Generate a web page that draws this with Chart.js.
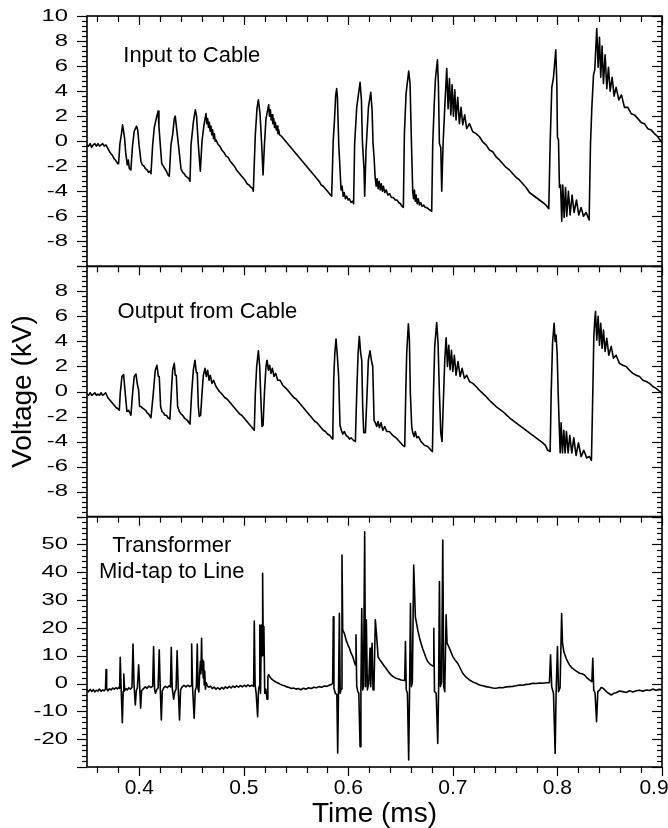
<!DOCTYPE html>
<html>
<head>
<meta charset="utf-8">
<script src="https://cdn.jsdelivr.net/npm/chart.js@4.4.0/dist/chart.umd.min.js"></script>
<style>
  html, body { margin: 0; padding: 0; background: #fff; }
  #wrap { width: 668px; height: 828px; position: relative; }
</style>
</head>
<body>
<div id="wrap"><canvas id="chart" width="668" height="828"></canvas></div>
<script>
const FONT = "'Liberation Sans', Arial, Helvetica, sans-serif";

// tick labels
const timeLabels = [0.4, 0.5, 0.6, 0.7, 0.8, 0.9];
const kvLabelsTop = [10, 8, 6, 4, 2, 0, -2, -4, -6, -8];
const kvLabelsMid = [8, 6, 4, 2, 0, -2, -4, -6, -8];
const mtLabels = [50, 40, 30, 20, 10, 0, -10, -20];

// [time (ms), voltage (kV)]
const inputToCable = [
  [0.3500,-0.3],[0.3515,-0.4],[0.3530,-0.2],[0.3545,-0.5],[0.3560,-0.3],[0.3575,-0.2],[0.3590,-0.4],[0.3605,-0.2],[0.3620,-0.4],[0.3635,-0.3],[0.3650,-0.2],[0.3665,-0.4],[0.3681,-0.3],
  [0.3700,-0.6],[0.3720,-0.9],[0.3740,-1.1],[0.3760,-1.4],[0.3780,-1.6],[0.3793,-1.8],
  [0.3802,-1.8],[0.3815,-0.2],[0.3830,0.6],[0.3840,1.3],[0.3850,0.8],[0.3860,0.2],[0.3870,-0.9],[0.3885,-1.9],[0.3895,-1.5],[0.3905,-2.2],[0.3920,-2.3],
  [0.3935,-0.4],[0.3952,0.8],[0.3974,1.2],[0.3985,0.9],[0.3998,-0.3],[0.4016,-1.6],[0.4030,-1.9],[0.4045,-2.0],[0.4060,-2.2],[0.4075,-2.3],[0.4090,-2.5],[0.4105,-2.4],[0.4112,-2.6],
  [0.4128,-0.3],[0.4144,1.1],[0.4165,1.9],[0.4180,2.4],[0.4188,1.2],[0.4201,-0.3],[0.4215,-1.8],[0.4230,-2.0],[0.4245,-2.2],[0.4260,-2.4],[0.4275,-2.7],[0.4287,-2.8],
  [0.4303,-0.3],[0.4319,0.5],[0.4335,1.8],[0.4344,2.0],[0.4352,1.4],[0.4376,-0.4],[0.4399,-2.2],[0.4415,-2.5],[0.4430,-2.6],[0.4445,-2.8],[0.4460,-2.9],[0.4475,-3.0],[0.4485,-3.2],
  [0.4495,-0.3],[0.4517,1.5],[0.4536,2.5],[0.4548,2.0],[0.4565,-0.3],[0.4584,-2.4],[0.4600,0.0],[0.4619,1.3],[0.4638,2.2],[0.4646,1.4],[0.4654,1.8],[0.4662,1.1],[0.4670,1.5],[0.4678,0.8],[0.4686,1.2],[0.4694,0.5],[0.4702,0.9],[0.4710,0.2],[0.4718,0.6],[0.4726,0.0],[0.4734,0.1],
  [0.4750,-0.2],[0.4770,-0.4],[0.4790,-0.7],[0.4810,-0.9],[0.4830,-1.2],[0.4850,-1.3],[0.4870,-1.6],[0.4890,-1.8],[0.4910,-2.0],[0.4930,-2.3],[0.4950,-2.5],[0.4970,-2.7],[0.4990,-2.9],[0.5010,-3.1],[0.5030,-3.4],[0.5050,-3.5],[0.5070,-3.7],[0.5085,-3.8],[0.5091,-4.0],
  [0.5100,-1.8],[0.5110,0.5],[0.5126,2.6],[0.5139,3.3],[0.5155,2.2],[0.5171,-0.3],[0.5184,-2.7],[0.5197,-0.3],[0.5212,1.8],[0.5238,2.9],[0.5246,2.0],[0.5254,2.5],[0.5262,1.7],[0.5270,2.1],[0.5278,1.4],[0.5286,1.8],[0.5294,1.1],[0.5302,1.5],[0.5310,0.9],[0.5318,1.2],[0.5326,0.6],[0.5334,0.9],[0.5342,0.5],
  [0.5360,0.4],[0.5380,0.2],[0.5400,0.0],[0.5420,-0.2],[0.5440,-0.4],[0.5460,-0.6],[0.5480,-0.8],[0.5500,-1.0],[0.5520,-1.2],[0.5540,-1.4],[0.5560,-1.6],[0.5580,-1.8],[0.5600,-2.0],[0.5620,-2.2],[0.5640,-2.4],[0.5660,-2.6],[0.5680,-2.8],[0.5700,-3.0],[0.5720,-3.2],[0.5740,-3.5],[0.5760,-3.6],[0.5780,-3.8],[0.5800,-4.0],[0.5820,-4.2],[0.5840,-4.4],
  [0.5845,-3.0],[0.5855,0.0],[0.5868,1.8],[0.5878,3.6],[0.5888,4.2],[0.5895,3.5],[0.5908,-0.2],[0.5930,-3.9],[0.5940,-3.6],[0.5950,-4.4],[0.5960,-4.1],[0.5972,-4.6],[0.5985,-4.4],[0.5998,-4.7],[0.6010,-4.6],[0.6025,-4.9],[0.6040,-4.8],[0.6050,-5.0],
  [0.6060,-0.2],[0.6080,2.7],[0.6099,3.9],[0.6112,4.7],[0.6125,3.3],[0.6134,0.0],[0.6150,-2.3],[0.6156,-4.4],[0.6169,-0.7],[0.6192,2.7],[0.6214,3.9],[0.6227,2.5],[0.6236,-0.2],[0.6246,-1.3],[0.6256,-2.9],[0.6266,-3.6],[0.6275,-3.0],[0.6285,-3.8],[0.6295,-3.2],[0.6305,-3.9],[0.6315,-3.4],[0.6325,-4.0],[0.6335,-3.6],[0.6348,-4.1],[0.6362,-3.9],[0.6378,-4.3],[0.6395,-4.2],[0.6412,-4.5],[0.6430,-4.5],[0.6448,-4.7],[0.6465,-4.7],[0.6482,-4.9],[0.6498,-5.0],[0.6512,-5.2],[0.6526,-5.3],
  [0.6536,0.6],[0.6552,3.8],[0.6577,5.6],[0.6590,4.6],[0.6603,0.0],[0.6616,-4.1],[0.6624,-4.6],[0.6632,-3.9],[0.6640,-4.8],[0.6648,-4.3],[0.6658,-5.0],[0.6668,-4.6],[0.6680,-5.1],[0.6692,-4.9],[0.6705,-5.2],[0.6720,-5.1],[0.6735,-5.3],[0.6750,-5.3],[0.6765,-5.4],[0.6780,-5.5],[0.6797,-5.6],
  [0.6807,-0.2],[0.6823,3.3],[0.6833,5.0],[0.6852,6.5],[0.6861,4.6],[0.6871,-0.2],[0.6884,-0.5],[0.6893,-4.0],[0.6906,-0.2],[0.6922,2.7],[0.6941,5.8],[0.6954,2.6],[0.6967,5.0],[0.6980,2.1],[0.6992,4.5],[0.7005,2.0],[0.7018,4.1],[0.7030,1.7],[0.7046,3.5],[0.7062,1.4],[0.7078,2.7],[0.7094,1.3],[0.7113,2.1],[0.7132,1.0],[0.7158,1.4],[0.7190,0.75],[0.7222,0.6],[0.7254,0.35],[0.7285,-0.05],
  [0.7317,-0.3],[0.7349,-0.7],[0.7381,-0.85],[0.7413,-1.25],[0.7445,-1.5],[0.7477,-1.8],[0.7509,-2.1],[0.7541,-2.3],[0.7573,-2.6],[0.7605,-2.9],[0.7636,-3.1],[0.7668,-3.4],[0.7700,-3.7],[0.7732,-4.1],[0.7764,-4.3],[0.7796,-4.5],[0.7828,-4.7],[0.7860,-4.9],[0.7890,-5.1],[0.7917,-5.4],
  [0.7930,-0.2],[0.7946,4.3],[0.7962,5.1],[0.7984,7.3],[0.7994,4.6],[0.8000,0.3],[0.8010,0.1],[0.8019,-3.7],[0.8030,-3.5],[0.8041,-6.4],[0.8051,-3.5],[0.8064,-6.1],[0.8077,-3.7],[0.8089,-6.0],[0.8105,-4.0],[0.8121,-5.9],[0.8140,-4.3],[0.8159,-5.7],[0.8182,-4.7],[0.8204,-5.9],[0.8226,-5.3],[0.8249,-6.0],[0.8274,-5.7],[0.8303,-6.3],
  [0.8316,-0.2],[0.8329,2.7],[0.8345,5.3],[0.8357,5.7],[0.8376,9.0],[0.8389,5.9],[0.8402,8.3],[0.8414,5.1],[0.8427,7.6],[0.8440,4.6],[0.8456,6.9],[0.8472,4.2],[0.8488,5.9],[0.8504,4.0],[0.8523,5.1],[0.8542,3.6],[0.8561,4.3],[0.8587,3.3],[0.8612,3.7],[0.8641,2.7],[0.8673,2.7],[0.8705,2.2],[0.8737,2.1],[0.8769,1.8],[0.8800,1.5],[0.8832,1.4],[0.8864,1.0],[0.8896,0.9],[0.8928,0.6],[0.8960,0.35],[0.8992,-0.05],[0.9000,-0.1]
];

const outputFromCable = [
  [0.3500,-0.2],[0.3515,-0.3],[0.3530,-0.1],[0.3545,-0.3],[0.3560,-0.2],[0.3575,-0.1],[0.3590,-0.3],[0.3605,-0.2],[0.3620,-0.3],[0.3635,-0.1],[0.3650,-0.3],[0.3665,-0.2],[0.3678,-0.1],
  [0.3700,-0.5],[0.3720,-0.7],[0.3740,-0.9],[0.3760,-1.1],[0.3780,-1.3],[0.3800,-1.4],[0.3809,-1.5],
  [0.3818,-0.15],[0.3834,1.2],[0.3850,1.35],[0.3866,-0.15],[0.3882,-1.6],[0.3898,-1.5],[0.3920,-1.9],
  [0.3936,-0.15],[0.3952,1.2],[0.3968,1.4],[0.3981,0.6],[0.3994,0.1],[0.4003,-1.2],[0.4016,-1.2],[0.4030,-1.3],[0.4045,-1.4],[0.4060,-1.5],[0.4075,-1.7],[0.4090,-1.8],[0.4105,-2.0],[0.4112,-2.1],
  [0.4134,-0.15],[0.4153,1.7],[0.4169,2.1],[0.4182,1.2],[0.4191,1.2],[0.4204,-1.2],[0.4217,-1.6],[0.4230,-1.7],[0.4245,-1.9],[0.4260,-1.9],[0.4275,-2.1],[0.4293,-2.2],
  [0.4306,-0.15],[0.4319,1.7],[0.4335,2.25],[0.4344,1.3],[0.4354,1.3],[0.4367,-1.2],[0.4383,-1.6],[0.4400,-1.8],[0.4415,-1.9],[0.4430,-2.1],[0.4445,-2.2],[0.4460,-2.3],[0.4475,-2.5],[0.4485,-2.6],
  [0.4501,-0.15],[0.4517,1.7],[0.4533,2.5],[0.4546,1.5],[0.4555,1.5],[0.4565,-1.2],[0.4574,-2.0],[0.4587,-1.9],[0.4600,-0.15],[0.4613,1.3],[0.4629,1.85],[0.4641,1.2],[0.4654,1.7],[0.4667,0.9],[0.4679,1.3],[0.4695,0.65],[0.4711,0.9],[0.4734,0.4],[0.4766,0.0],
  [0.4780,-0.1],[0.4800,-0.3],[0.4820,-0.5],[0.4840,-0.6],[0.4860,-0.8],[0.4880,-1.0],[0.4900,-1.2],[0.4920,-1.4],[0.4940,-1.6],[0.4960,-1.8],[0.4980,-1.9],[0.5000,-2.1],[0.5020,-2.3],[0.5040,-2.5],[0.5060,-2.7],[0.5080,-2.9],[0.5100,-3.1],
  [0.5110,-0.15],[0.5123,2.0],[0.5139,3.25],[0.5152,2.0],[0.5161,-0.15],[0.5174,-2.8],[0.5184,-2.7],[0.5197,-0.15],[0.5212,2.0],[0.5222,2.5],[0.5235,1.7],[0.5247,2.1],[0.5260,1.45],[0.5273,1.85],[0.5289,1.2],[0.5305,1.45],[0.5324,0.9],[0.5346,0.9],[0.5372,0.5],[0.5404,0.25],
  [0.5420,0.1],[0.5440,-0.1],[0.5460,-0.3],[0.5480,-0.5],[0.5500,-0.6],[0.5520,-0.8],[0.5540,-1.0],[0.5560,-1.2],[0.5580,-1.4],[0.5600,-1.6],[0.5620,-1.8],[0.5640,-2.0],[0.5660,-2.2],[0.5680,-2.4],[0.5700,-2.5],[0.5720,-2.7],[0.5740,-2.9],[0.5760,-3.1],[0.5780,-3.2],[0.5800,-3.4],[0.5820,-3.5],[0.5840,-3.7],[0.5848,-3.8],
  [0.5852,-3.0],[0.5860,1.0],[0.5870,3.0],[0.5882,4.2],[0.5895,2.8],[0.5907,1.2],[0.5920,-2.7],[0.5933,-3.1],[0.5946,-3.4],[0.5962,-3.2],[0.5978,-3.5],[0.5994,-3.6],[0.6010,-3.8],[0.6025,-3.7],[0.6048,-3.9],[0.6067,-4.0],
  [0.6080,-0.15],[0.6093,3.05],[0.6105,4.4],[0.6118,3.05],[0.6128,2.5],[0.6137,-1.2],[0.6147,-3.3],[0.6163,-3.3],[0.6179,-0.15],[0.6191,2.5],[0.6207,3.25],[0.6220,2.5],[0.6233,2.0],[0.6246,-2.3],[0.6258,-2.5],[0.6271,-2.8],[0.6284,-2.4],[0.6297,-2.9],[0.6313,-2.5],[0.6329,-3.1],[0.6348,-2.8],[0.6367,-3.2],[0.6392,-3.2],[0.6424,-3.5],[0.6456,-3.7],[0.6488,-4.0],[0.6520,-4.3],[0.6539,-4.4],
  [0.6549,-0.15],[0.6558,3.05],[0.6574,5.4],[0.6584,4.1],[0.6593,-0.15],[0.6606,-2.8],[0.6616,-3.3],[0.6629,-3.6],[0.6641,-3.2],[0.6654,-3.7],[0.6670,-3.6],[0.6695,-4.0],[0.6727,-4.3],[0.6759,-4.4],[0.6791,-4.7],[0.6804,-4.8],
  [0.6814,-0.15],[0.6826,3.6],[0.6845,5.5],[0.6858,3.85],[0.6871,-0.15],[0.6884,-3.3],[0.6896,-4.0],[0.6909,-0.7],[0.6922,2.5],[0.6935,4.3],[0.6948,2.0],[0.6960,3.7],[0.6973,1.75],[0.6986,3.3],[0.6999,1.6],[0.7014,2.9],[0.7030,1.3],[0.7049,2.4],[0.7069,1.2],[0.7088,1.85],[0.7110,1.05],[0.7132,1.3],[0.7158,0.8],[0.7190,0.65],[0.7222,0.4],[0.7254,0.1],[0.7285,-0.15],
  [0.7317,-0.4],[0.7349,-0.7],[0.7381,-0.95],[0.7413,-1.2],[0.7445,-1.4],[0.7477,-1.6],[0.7509,-1.85],[0.7541,-2.1],[0.7573,-2.3],[0.7605,-2.5],[0.7636,-2.7],[0.7668,-2.9],[0.7700,-3.1],[0.7732,-3.3],[0.7764,-3.5],[0.7796,-3.7],[0.7828,-3.9],[0.7860,-4.1],[0.7885,-4.3],[0.7907,-4.7],[0.7930,-4.8],
  [0.7940,-0.15],[0.7953,3.85],[0.7968,5.45],[0.7978,4.0],[0.7987,4.5],[0.7997,3.05],[0.8007,-0.15],[0.8016,-2.5],[0.8026,-4.9],[0.8035,-2.5],[0.8048,-4.9],[0.8061,-3.1],[0.8073,-4.9],[0.8086,-3.2],[0.8102,-4.9],[0.8118,-3.5],[0.8137,-4.9],[0.8156,-3.7],[0.8178,-5.1],[0.8201,-4.1],[0.8226,-5.2],[0.8252,-4.7],[0.8280,-5.3],[0.8306,-5.2],[0.8325,-5.5],
  [0.8338,-0.15],[0.8348,4.4],[0.8357,5.7],[0.8364,6.4],[0.8376,4.1],[0.8389,6.0],[0.8402,3.7],[0.8414,5.45],[0.8427,3.45],[0.8440,4.9],[0.8456,3.2],[0.8472,4.25],[0.8491,2.9],[0.8514,3.6],[0.8536,2.65],[0.8561,2.9],[0.8593,2.25],[0.8625,2.1],[0.8657,2.0],[0.8689,1.7],[0.8721,1.45],[0.8753,1.3],[0.8785,1.2],[0.8817,0.9],[0.8849,0.8],[0.8881,0.65],[0.8912,0.4],[0.8944,0.25],[0.8986,-0.05],[0.9000,-0.15]
];

const midTapToLine = [
  [0.3500,-2.3],[0.3515,-2.9],[0.3530,-2.1],[0.3545,-2.8],[0.3560,-2.2],[0.3575,-3.0],[0.3590,-2.4],[0.3605,-2.7],[0.3620,-2.0],[0.3635,-2.8],[0.3650,-2.3],[0.3665,-2.6],[0.3677,-2.0],
  [0.3682,5.0],[0.3688,-1.8],[0.3700,-2.6],[0.3715,-1.9],[0.3730,-2.3],[0.3745,-1.6],[0.3760,-2.0],[0.3775,-1.5],[0.3790,-1.9],[0.3803,-1.4],[0.3812,-1.7],
  [0.3818,9.4],[0.3826,-1.0],[0.3838,-14.1],[0.3846,-2.9],[0.3852,3.4],[0.3860,-2.6],[0.3872,-1.8],[0.3885,-2.3],[0.3900,-1.5],[0.3915,-2.0],[0.3930,-1.4],
  [0.3940,14.2],[0.3950,-0.5],[0.3962,-7.7],[0.3972,-2.5],[0.3982,-1.5],[0.3994,6.7],[0.4004,-1.0],[0.4013,-8.9],[0.4022,-2.7],[0.4040,-1.8],[0.4058,-1.2],[0.4075,-1.7],[0.4092,-0.9],[0.4110,-1.4],[0.4128,-1.0],
  [0.4137,13.3],[0.4146,-2.0],[0.4155,-3.5],[0.4166,-2.2],[0.4180,-1.6],[0.4191,12.1],[0.4200,-1.0],[0.4211,-13.1],[0.4220,-2.6],[0.4235,-1.5],[0.4250,-1.0],[0.4268,-1.5],[0.4285,-0.8],[0.4298,-1.2],
  [0.4306,13.0],[0.4315,-1.5],[0.4329,-5.6],[0.4340,-3.0],[0.4352,-2.0],[0.4362,11.8],[0.4372,-1.0],[0.4385,-13.1],[0.4395,-2.3],[0.4410,-1.2],[0.4428,-0.6],[0.4446,-1.2],[0.4464,-0.6],[0.4482,-1.1],[0.4495,-0.8],
  [0.4501,14.2],[0.4510,-1.5],[0.4525,-12.5],[0.4535,-2.6],[0.4546,-1.2],[0.4555,14.2],[0.4562,-1.8],[0.4570,-3.0],[0.4578,4.0],[0.4585,8.0],[0.4590,3.5],[0.4596,16.3],[0.4601,5.0],[0.4606,8.5],[0.4611,2.0],[0.4616,8.0],[0.4621,-0.5],[0.4626,4.5],[0.4633,-2.0],[0.4641,0.3],
  [0.4652,-0.9],[0.4665,-1.3],[0.4680,-0.9],[0.4698,-1.8],[0.4716,-1.3],[0.4734,-2.0],[0.4752,-1.5],[0.4770,-2.1],[0.4788,-1.4],[0.4806,-1.9],[0.4824,-1.2],[0.4842,-1.7],[0.4860,-1.0],[0.4878,-1.6],[0.4896,-0.9],[0.4914,-1.4],[0.4932,-0.8],[0.4950,-1.3],[0.4968,-0.7],[0.4986,-1.2],[0.5004,-0.6],[0.5022,-1.1],[0.5040,-0.5],[0.5058,-1.0],[0.5076,-0.6],[0.5094,-1.0],
  [0.5100,22.5],[0.5108,-0.5],[0.5118,-3.5],[0.5132,-11.9],[0.5140,-3.0],[0.5147,-1.0],[0.5153,21.0],[0.5160,-3.5],[0.5168,21.0],[0.5175,10.0],[0.5180,39.6],[0.5186,12.1],[0.5192,20.5],[0.5200,-3.5],[0.5210,-2.0],[0.5222,-5.6],[0.5230,2.5],[0.5237,3.2],
  [0.5250,2.4],[0.5262,1.8],[0.5276,1.3],[0.5292,0.9],[0.5310,0.5],[0.5328,0.2],[0.5346,-0.2],[0.5370,-0.6],[0.5390,-0.8],[0.5410,-1.2],[0.5435,-1.4],[0.5455,-1.8],[0.5475,-1.6],[0.5500,-2.0],[0.5520,-1.8],[0.5545,-2.2],[0.5570,-1.7],[0.5595,-2.0],[0.5620,-1.5],[0.5645,-1.8],[0.5670,-1.3],[0.5695,-1.5],[0.5720,-1.1],[0.5745,-1.3],[0.5770,-0.9],[0.5795,-1.0],[0.5820,-0.5],[0.5840,-0.3],[0.5850,0.2],
  [0.5856,24.0],[0.5862,-1.7],[0.5875,-3.5],[0.5890,-4.0],[0.5898,-25.0],[0.5906,-2.3],[0.5914,25.3],[0.5922,-3.5],[0.5930,-2.0],[0.5939,46.2],[0.5946,19.3],[0.5962,18.0],[0.5978,15.7],[0.5995,14.0],[0.6010,12.7],[0.6025,11.0],[0.6042,9.7],[0.6055,8.0],[0.6067,6.7],
  [0.6073,17.5],[0.6080,-1.0],[0.6090,-2.9],[0.6100,-3.5],[0.6112,-22.7],[0.6120,-2.3],[0.6128,27.0],[0.6137,-2.3],[0.6145,-1.0],[0.6156,54.6],[0.6164,-1.1],[0.6172,22.9],[0.6182,-2.3],[0.6195,0.1],[0.6207,12.7],[0.6214,-1.1],[0.6227,14.5],[0.6236,-2.3],[0.6245,-1.0],[0.6258,22.9],[0.6271,16.9],[0.6284,9.7],
  [0.6298,8.7],[0.6313,7.9],[0.6336,6.7],[0.6360,5.5],[0.6384,4.2],[0.6408,3.1],[0.6432,2.4],[0.6456,1.9],[0.6480,1.6],[0.6504,1.3],[0.6525,1.2],[0.6539,1.1],
  [0.6546,15.1],[0.6554,-2.3],[0.6565,-3.5],[0.6577,-27.5],[0.6585,-3.5],[0.6594,28.8],[0.6603,-1.1],[0.6612,0.5],[0.6625,42.6],[0.6641,24.0],[0.6664,19.2],[0.6680,16.5],[0.6695,14.5],[0.6711,12.5],[0.6727,10.9],[0.6743,9.2],[0.6759,7.9],[0.6775,7.2],[0.6791,6.7],[0.6810,6.3],
  [0.6817,19.9],[0.6824,-2.9],[0.6840,-3.5],[0.6855,-21.5],[0.6863,-2.5],[0.6871,36.7],[0.6880,-1.1],[0.6892,0.5],[0.6903,51.6],[0.6912,-1.1],[0.6922,-2.9],[0.6935,24.7],[0.6944,14.5],[0.6960,13.3],[0.6980,11.5],[0.6999,9.7],[0.7022,8.4],[0.7046,7.3],[0.7070,5.5],[0.7094,3.7],[0.7126,2.3],[0.7158,1.3],
  [0.7190,0.6],[0.7222,0.1],[0.7254,-0.5],[0.7285,-0.8],[0.7317,-1.1],[0.7349,-1.3],[0.7381,-1.6],[0.7413,-1.7],[0.7445,-1.4],[0.7477,-1.5],[0.7509,-1.2],[0.7541,-1.1],[0.7573,-1.0],[0.7605,-0.8],[0.7636,-0.5],[0.7668,-0.6],[0.7700,-0.3],[0.7732,-0.2],[0.7764,0.1],[0.7796,0.0],[0.7828,0.2],[0.7860,0.1],[0.7892,0.3],[0.7923,0.3],
  [0.7934,10.3],[0.7945,-1.1],[0.7962,-3.5],[0.7978,-25.1],[0.7987,-3.5],[0.8000,13.3],[0.8010,-2.9],[0.8025,-1.5],[0.8040,25.2],[0.8048,14.5],[0.8061,11.5],[0.8072,10.3],[0.8083,9.1],[0.8099,7.8],[0.8115,6.7],[0.8139,5.6],[0.8163,4.9],[0.8187,4.3],[0.8211,3.7],[0.8235,3.5],[0.8259,3.1],[0.8283,2.0],[0.8306,1.3],[0.8329,0.7],
  [0.8338,9.1],[0.8347,-2.3],[0.8360,-3.5],[0.8374,-13.7],[0.8386,-2.9],[0.8405,-2.3],[0.8418,-1.4],[0.8437,-1.7],[0.8468,-2.9],[0.8490,-3.5],[0.8514,-4.1],[0.8540,-3.5],[0.8561,-3.3],[0.8593,-2.7],[0.8625,-2.9],[0.8657,-3.2],[0.8689,-2.6],[0.8721,-3.0],[0.8753,-2.6],[0.8785,-2.4],[0.8817,-2.8],[0.8849,-2.3],[0.8881,-2.5],[0.8912,-2.0],[0.8944,-2.4],[0.8976,-2.1],[0.9000,-2.3]
];

const toPoints = (rows) => rows.map(([x, y]) => ({ x, y }));

// one entry per stacked panel
const panels = [
  { id: "y1", labels: kvLabelsTop, major: 2, minor: 0.4 },
  { id: "y2", labels: kvLabelsMid, major: 2, minor: 0.4 },
  { id: "y3", labels: mtLabels, major: 10, minor: 2 },
];

const fixAxis = (size) => (scale) => {
  if (scale.isHorizontal()) scale.height = size;
  else scale.width = size;
  scale.paddingLeft = 0;
  scale.paddingRight = 0;
  scale.paddingTop = 0;
  scale.paddingBottom = 0;
};

function panelAxis(min, max, weight, labels, extra) {
  return Object.assign({
    type: "linear",
    position: "left",
    min, max,
    stack: "panels",
    stackWeight: 1,
    weight,
    grid: { display: false, drawTicks: false },
    border: { display: false },
    ticks: { display: false },
    afterBuildTicks: (s) => { s.ticks = labels.map((v) => ({ value: v })); },
    afterFit: fixAxis(87),
  }, extra || {});
}

// frame, inward/outward tick marks, y labels and panel names
const framePlugin = {
  id: "frame",
  beforeDraw(chart) {
    // the last time label sits pulled in from the right edge
    const xs = chart.scales.x;
    const items = xs.getLabelItems(chart.chartArea);
    const last = items[items.length - 1];
    if (last) last.options.translation[0] = xs.getPixelForValue(timeLabels[timeLabels.length - 1]) - 8;
  },
  afterDraw(chart) {
    const { ctx, chartArea, scales } = chart;
    const { left, right } = chartArea;
    const xs = scales.x;
    const seg = (x1, y1, x2, y2) => {
      ctx.beginPath(); ctx.moveTo(x1, y1); ctx.lineTo(x2, y2); ctx.stroke();
    };
    const xTicksDown = (y) => {
      for (let i = 0; i <= 27; i++) {
        const t = 0.36 + i * 0.02;
        const px = Math.round(xs.getPixelForValue(t)) + 0.5;
        const major = i % 5 === 2;
        seg(px, y, px, y + (major ? 9 : 6));
      }
    };
    ctx.save();
    ctx.strokeStyle = "#000";
    ctx.fillStyle = "#000";
    panels.forEach((p) => {
      const s = scales[p.id];
      ctx.lineWidth = 1.2;
      const n = Math.round((s.max - s.min) / p.minor);
      for (let i = 0; i <= n; i++) {
        const v = s.min + i * p.minor;
        const r = v / p.major;
        const len = Math.abs(r - Math.round(r)) < 1e-6 ? 10 : 5;
        const py = Math.round(s.getPixelForValue(v)) + 0.5;
        seg(left - len, py, left, py);
        seg(right - len, py, right, py);
      }
      xTicksDown(s.top);
      ctx.lineWidth = 1.6;
      ctx.strokeRect(left, s.top, right - left, s.bottom - s.top);

      // y tick labels, wide face
      ctx.font = "17px " + FONT;
      ctx.textAlign = "right";
      ctx.textBaseline = "middle";
      p.labels.forEach((v) => {
        ctx.save();
        ctx.translate(left - 19, s.getPixelForValue(v));
        ctx.scale(1.4, 1);
        ctx.fillText(String(v), 0, 0);
        ctx.restore();
      });
    });
    ctx.lineWidth = 1.2;
    xTicksDown(scales.y3.bottom);

    ctx.font = "22px " + FONT;
    ctx.textBaseline = "alphabetic";
    ctx.textAlign = "left";
    ctx.fillText("Input to Cable", xs.getPixelForValue(0.3847), scales.y1.getPixelForValue(6.3));
    ctx.fillText("Output from Cable", xs.getPixelForValue(0.3792), scales.y2.getPixelForValue(5.85));
    ctx.textAlign = "center";
    ctx.fillText("Transformer", xs.getPixelForValue(0.4311), scales.y3.getPixelForValue(47.2));
    ctx.fillText("Mid-tap to Line", xs.getPixelForValue(0.4311), scales.y3.getPixelForValue(37.9));
    ctx.restore();
  },
};

const line = (rows, axis) => ({
  data: toPoints(rows),
  yAxisID: axis,
  borderColor: "#000",
  borderWidth: 1.6,
  borderJoinStyle: "round",
  pointRadius: 0,
  tension: 0,
});

new Chart(document.getElementById("chart"), {
  type: "line",
  data: {
    datasets: [
      line(inputToCable, "y1"),
      line(outputFromCable, "y2"),
      line(midTapToLine, "y3"),
    ],
  },
  options: {
    responsive: false,
    animation: false,
    devicePixelRatio: 1,
    layout: { padding: { top: 16, right: 6, left: 0, bottom: 0 } },
    plugins: { legend: { display: false }, tooltip: { enabled: false } },
    scales: {
      x: {
        type: "linear",
        position: "bottom",
        min: 0.35,
        max: 0.9,
        grid: { display: false, drawTicks: false },
        border: { display: false },
        afterBuildTicks: (s) => { s.ticks = timeLabels.map((v) => ({ value: v })); },
        afterFit: fixAxis(61),
        ticks: {
          padding: 9,
          autoSkip: false,
          maxRotation: 0,
          color: "#000",
          font: { family: FONT, size: 21 },
          callback: (v) => Number(v).toFixed(1),
        },
        title: {
          display: true,
          text: "Time (ms)",
          color: "#000",
          font: { family: FONT, size: 28, lineHeight: 0.95 },
          padding: 0,
        },
      },
      y1: panelAxis(-10, 10, 3, kvLabelsTop),
      y2: panelAxis(-10, 10, 2, kvLabelsMid, {
        title: {
          display: true,
          text: "Voltage (kV)",
          color: "#000",
          font: { family: FONT, size: 28, lineHeight: 1 },
          padding: { top: 9, bottom: 0 },
        },
      }),
      y3: panelAxis(-30, 60, 1, mtLabels),
    },
  },
  plugins: [framePlugin],
});
</script>
</body>
</html>
